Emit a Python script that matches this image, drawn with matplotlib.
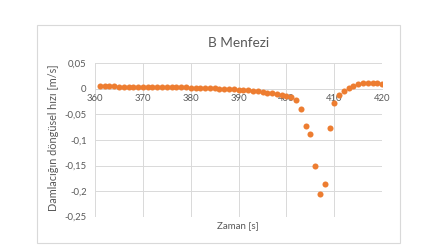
import matplotlib
matplotlib.use("Agg")
import matplotlib.pyplot as plt
from matplotlib.patches import Rectangle

# zaman [s] ve damlacik dongusel hizi [m/s]
zaman = list(range(361, 421))
hiz = [0.0048, 0.0047, 0.0047, 0.0046, 0.0045, 0.0044, 0.0043, 0.0042, 0.0041, 0.0040,
       0.0039, 0.0038, 0.0036, 0.0035, 0.0033, 0.0032, 0.0030, 0.0028, 0.0026, 0.0024,
       0.0021, 0.0018, 0.0015, 0.0012, 0.0008, 0.0004, 0.0000, -0.0005, -0.0010, -0.0016,
       -0.0023, -0.0031, -0.0040, -0.0050, -0.0061, -0.0073, -0.0086, -0.0100, -0.0116, -0.0133,
       -0.0160, -0.0220, -0.0400, -0.0720, -0.0890, -0.1500, -0.2050, -0.1870, -0.0760, -0.0270,
       -0.0120, -0.0040, 0.0020, 0.0060, 0.0090, 0.0110, 0.0120, 0.0120, 0.0115, 0.0095]

x_ticks = [360, 370, 380, 390, 400, 410, 420]
y_ticks = [0.05, 0, -0.05, -0.1, -0.15, -0.2, -0.25]
y_labels = ["0,05", "0", "-0,05", "-0,1", "-0,15", "-0,2", "-0,25"]

plt.rcParams['font.family'] = ['Lato', 'DejaVu Sans']
gri = '#595959'

fig = plt.figure(figsize=(4.46, 2.49), dpi=100)
fig.patches.append(Rectangle((37 / 446, 1 - 243 / 249), 363 / 446, 218 / 249,
                             transform=fig.transFigure, fill=False,
                             edgecolor='#d9d9d9', linewidth=0.8))

ax = fig.add_axes([0.213, 0.130, 0.644, 0.616])
ax.scatter(zaman, hiz, s=19, color='#ED7D31', zorder=3, linewidths=0)

ax.set_xlim(360, 420)
ax.set_ylim(-0.25, 0.05)
ax.set_xticks(x_ticks)
ax.set_yticks(y_ticks)
ax.set_yticklabels(y_labels)
ax.grid(True, color='#d9d9d9', linewidth=0.7)
ax.set_axisbelow(True)

for s in ['top', 'right', 'left']:
    ax.spines[s].set_visible(False)
ax.spines['bottom'].set_position(('data', 0))
ax.spines['bottom'].set_color('#d9d9d9')
ax.spines['bottom'].set_linewidth(0.7)

ax.tick_params(axis='both', length=0, labelsize=6.8, labelcolor=gri)
ax.tick_params(axis='x', pad=4)
ax.tick_params(axis='y', pad=6)

ax.set_title("B Menfezi", fontsize=9.8, color=gri, pad=12)
fig.text(0.534, 1 - 226 / 249, "Zaman [s]", fontsize=7, color=gri, ha='center', va='center')
fig.text(54 / 446, 1 - 138 / 249, "Damlacığın döngüsel hızı [m/s]", fontsize=7.8, color=gri,
         ha='center', va='center', rotation=90)

fig.savefig("out.png", dpi=100)
